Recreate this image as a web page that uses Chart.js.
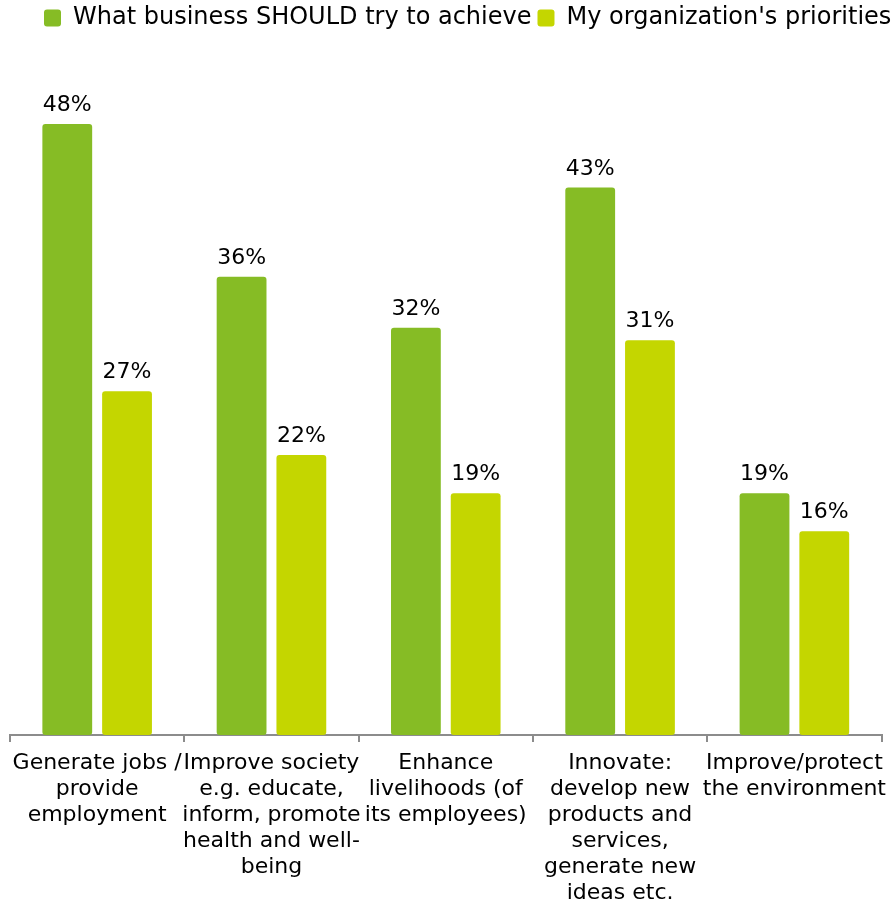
<!DOCTYPE html>
<html>
<head>
<meta charset="utf-8">
<script src="https://cdn.jsdelivr.net/npm/chart.js@4.4.1/dist/chart.umd.min.js"></script>
<style>
  html, body { margin: 0; padding: 0; background: #ffffff; }
  #wrap { width: 895px; height: 903px; position: relative; }
</style>
</head>
<body>
<div id="wrap"><canvas id="chart" width="895" height="903"></canvas></div>
<script>
// Survey categories (multi-line axis labels)
const categories = [
  ["Generate jobs /", "provide", "employment"],
  ["Improve society", "e.g. educate,", "inform, promote", "health and well-", "being"],
  ["Enhance", "livelihoods (of", "its employees)"],
  ["Innovate:", "develop new", "products and", "services,", "generate new", "ideas etc."],
  ["Improve/protect", "the environment"]
];

// Share of respondents, in percent
const shouldValues = [48, 36, 32, 43, 19];
const priorityValues = [27, 22, 19, 31, 16];

const seriesNames = ["What business SHOULD try to achieve", "My organization's priorities"];
const seriesColors = ["#86bc25", "#c4d600"];

const FONT = "'DejaVu Sans', Verdana, sans-serif";

// Reserves space above the plot area and places the legend on one row
const legendLayout = {
  id: 'legendLayout',
  beforeInit(chart) {
    const fit = chart.legend.fit;
    chart.legend.fit = function () {
      fit.call(this);
      this.height = 98.5;
    };
  },
  afterLayout(chart) {
    chart.legend.left = 38;
    chart.legend.right = 910;
  }
};

// Writes each bar's value above it
const valueLabels = {
  id: 'valueLabels',
  afterDatasetsDraw(chart) {
    const ctx = chart.ctx;
    ctx.save();
    ctx.font = "22px " + FONT;
    ctx.fillStyle = "#000000";
    ctx.textAlign = "center";
    ctx.textBaseline = "alphabetic";
    chart.data.datasets.forEach((ds, i) => {
      chart.getDatasetMeta(i).data.forEach((bar, j) => {
        ctx.fillText(ds.data[j] + "%", bar.x, bar.y - 13);
      });
    });
    ctx.restore();
  }
};

new Chart(document.getElementById('chart'), {
  type: 'bar',
  data: {
    labels: categories,
    datasets: [
      { label: seriesNames[0], data: shouldValues, backgroundColor: seriesColors[0] },
      { label: seriesNames[1], data: priorityValues, backgroundColor: seriesColors[1] }
    ]
  },
  options: {
    responsive: false,
    animation: false,
    devicePixelRatio: 1,
    layout: { padding: { left: 10, right: 10, top: 0, bottom: 0 } },
    datasets: {
      bar: {
        categoryPercentage: 120 / 175,
        barPercentage: 50 / 60,
        borderRadius: 3,
        borderSkipped: false,
        borderWidth: 0
      }
    },
    scales: {
      x: {
        grid: {
          display: true,
          drawOnChartArea: false,
          offset: true,
          tickLength: 7,
          lineWidth: 2,
          color: "#8c8c8c"
        },
        border: { display: true, color: "#8c8c8c", width: 2 },
        ticks: {
          autoSkip: false,
          maxRotation: 0,
          minRotation: 0,
          padding: 8,
          color: "#000000",
          font: { family: FONT, size: 22, lineHeight: '26px' }
        },
        afterFit(scale) { scale.height = 168; }
      },
      y: {
        display: false,
        min: 0,
        max: 50
      }
    },
    plugins: {
      legend: {
        position: 'top',
        align: 'start',
        labels: {
          boxWidth: 17,
          boxHeight: 17,
          padding: 6,
          useBorderRadius: true,
          borderRadius: 3,
          color: "#000000",
          font: { family: FONT, size: 24 }
        }
      },
      tooltip: { enabled: false }
    }
  },
  plugins: [legendLayout, valueLabels]
});
</script>
</body>
</html>
